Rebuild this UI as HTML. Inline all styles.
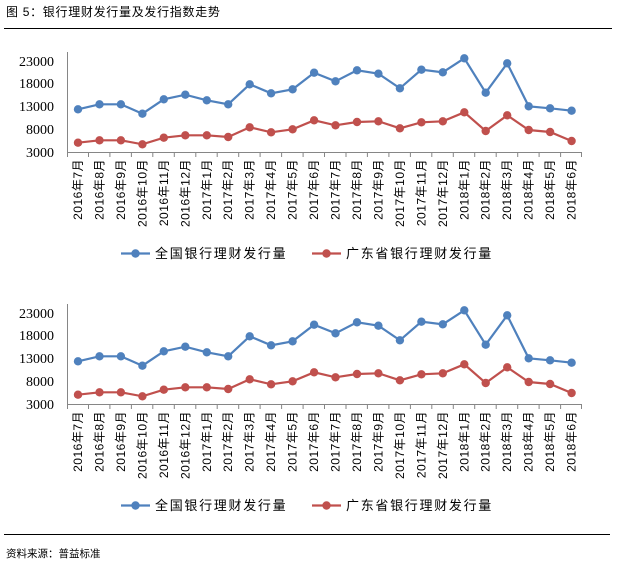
<!DOCTYPE html>
<html><head><meta charset="utf-8"><style>
html,body{margin:0;padding:0;background:#fff;}
svg{display:block;}
.t{font-family:"Liberation Serif","Noto Serif CJK SC",serif;font-size:14px;fill:#000;}
.c{font-family:"Liberation Sans","Noto Sans CJK SC",sans-serif;font-size:12px;fill:#000;letter-spacing:0.5px;}
.l{font-family:"Liberation Sans","Noto Sans CJK SC",sans-serif;font-size:13px;fill:#000;letter-spacing:1.7px;}
.h{font-family:"Liberation Sans","Noto Sans CJK SC",sans-serif;font-size:12px;fill:#000;letter-spacing:0.7px;}
.s{font-family:"Liberation Sans","Noto Sans CJK SC",sans-serif;font-size:10.5px;fill:#000;}
</style></head><body>
<svg width="629" height="566" viewBox="0 0 629 566" xmlns="http://www.w3.org/2000/svg">
<text class="h" x="6" y="16">图 5：银行理财发行量及发行指数走势</text>
<line x1="4" y1="28.5" x2="612" y2="28.5" stroke="#000" stroke-width="1"/>
<g>
<g class="t" text-anchor="end">
<text x="54" y="66">23000</text><text x="54" y="88">18000</text><text x="54" y="111">13000</text><text x="54" y="134">8000</text><text x="54" y="157">3000</text>
</g>
<g stroke="#868686" stroke-width="1" fill="none">
<line x1="67.5" y1="52" x2="67.5" y2="152"/>
<line x1="67" y1="152.5" x2="582" y2="152.5"/>
<path d="M67.5 152v5M88.5 152v5M109.9 152v5M131.4 152v5M152.8 152v5M174.3 152v5M195.8 152v5M217.2 152v5M238.7 152v5M260.1 152v5M281.6 152v5M303.1 152v5M324.5 152v5M346 152v5M367.4 152v5M388.9 152v5M410.4 152v5M431.8 152v5M453.3 152v5M474.7 152v5M496.2 152v5M517.7 152v5M539.1 152v5M560.6 152v5M581.5 152v5"/>
</g>
<g class="c" text-anchor="end">
<text transform="translate(82,159) rotate(-90)">2016年7月</text>
<text transform="translate(103.5,159) rotate(-90)">2016年8月</text>
<text transform="translate(124.9,159) rotate(-90)">2016年9月</text>
<text transform="translate(146.4,159) rotate(-90)">2016年10月</text>
<text transform="translate(167.8,159) rotate(-90)">2016年11月</text>
<text transform="translate(189.3,159) rotate(-90)">2016年12月</text>
<text transform="translate(210.8,159) rotate(-90)">2017年1月</text>
<text transform="translate(232.2,159) rotate(-90)">2017年2月</text>
<text transform="translate(253.7,159) rotate(-90)">2017年3月</text>
<text transform="translate(275.1,159) rotate(-90)">2017年4月</text>
<text transform="translate(296.6,159) rotate(-90)">2017年5月</text>
<text transform="translate(318.1,159) rotate(-90)">2017年6月</text>
<text transform="translate(339.5,159) rotate(-90)">2017年7月</text>
<text transform="translate(361,159) rotate(-90)">2017年8月</text>
<text transform="translate(382.4,159) rotate(-90)">2017年9月</text>
<text transform="translate(403.9,159) rotate(-90)">2017年10月</text>
<text transform="translate(425.4,159) rotate(-90)">2017年11月</text>
<text transform="translate(446.8,159) rotate(-90)">2017年12月</text>
<text transform="translate(468.3,159) rotate(-90)">2018年1月</text>
<text transform="translate(489.7,159) rotate(-90)">2018年2月</text>
<text transform="translate(511.2,159) rotate(-90)">2018年3月</text>
<text transform="translate(532.7,159) rotate(-90)">2018年4月</text>
<text transform="translate(554.1,159) rotate(-90)">2018年5月</text>
<text transform="translate(575.6,159) rotate(-90)">2018年6月</text>
</g>
<polyline fill="none" stroke="#4F81BD" stroke-width="2.2" points="78,109.3 99.5,104.3 120.9,104.3 142.4,113.7 163.8,99.3 185.3,94.7 206.8,100.3 228.2,104.3 249.7,84.3 271.1,93.3 292.6,89.3 314.1,72.7 335.5,81.3 357,70.3 378.4,73.7 399.9,88.3 421.4,69.7 442.8,72.3 464.3,58.3 485.7,92.7 507.2,63.3 528.7,106.3 550.1,108.3 571.6,110.7"/>
<g fill="#4F81BD">
<circle cx="78" cy="109.3" r="4.2"/><circle cx="99.5" cy="104.3" r="4.2"/><circle cx="120.9" cy="104.3" r="4.2"/><circle cx="142.4" cy="113.7" r="4.2"/><circle cx="163.8" cy="99.3" r="4.2"/><circle cx="185.3" cy="94.7" r="4.2"/><circle cx="206.8" cy="100.3" r="4.2"/><circle cx="228.2" cy="104.3" r="4.2"/><circle cx="249.7" cy="84.3" r="4.2"/><circle cx="271.1" cy="93.3" r="4.2"/><circle cx="292.6" cy="89.3" r="4.2"/><circle cx="314.1" cy="72.7" r="4.2"/><circle cx="335.5" cy="81.3" r="4.2"/><circle cx="357" cy="70.3" r="4.2"/><circle cx="378.4" cy="73.7" r="4.2"/><circle cx="399.9" cy="88.3" r="4.2"/><circle cx="421.4" cy="69.7" r="4.2"/><circle cx="442.8" cy="72.3" r="4.2"/><circle cx="464.3" cy="58.3" r="4.2"/><circle cx="485.7" cy="92.7" r="4.2"/><circle cx="507.2" cy="63.3" r="4.2"/><circle cx="528.7" cy="106.3" r="4.2"/><circle cx="550.1" cy="108.3" r="4.2"/><circle cx="571.6" cy="110.7" r="4.2"/>
</g>
<polyline fill="none" stroke="#C0504D" stroke-width="2.2" points="78,142.7 99.5,140.3 120.9,140.3 142.4,144.3 163.8,137.7 185.3,135.3 206.8,135.3 228.2,137 249.7,127.3 271.1,132.3 292.6,129.3 314.1,120.3 335.5,125.3 357,122 378.4,121.3 399.9,128.3 421.4,122.3 442.8,121.3 464.3,112.3 485.7,131 507.2,115.3 528.7,130 550.1,132 571.6,141"/>
<g fill="#C0504D">
<circle cx="78" cy="142.7" r="4.2"/><circle cx="99.5" cy="140.3" r="4.2"/><circle cx="120.9" cy="140.3" r="4.2"/><circle cx="142.4" cy="144.3" r="4.2"/><circle cx="163.8" cy="137.7" r="4.2"/><circle cx="185.3" cy="135.3" r="4.2"/><circle cx="206.8" cy="135.3" r="4.2"/><circle cx="228.2" cy="137" r="4.2"/><circle cx="249.7" cy="127.3" r="4.2"/><circle cx="271.1" cy="132.3" r="4.2"/><circle cx="292.6" cy="129.3" r="4.2"/><circle cx="314.1" cy="120.3" r="4.2"/><circle cx="335.5" cy="125.3" r="4.2"/><circle cx="357" cy="122" r="4.2"/><circle cx="378.4" cy="121.3" r="4.2"/><circle cx="399.9" cy="128.3" r="4.2"/><circle cx="421.4" cy="122.3" r="4.2"/><circle cx="442.8" cy="121.3" r="4.2"/><circle cx="464.3" cy="112.3" r="4.2"/><circle cx="485.7" cy="131" r="4.2"/><circle cx="507.2" cy="115.3" r="4.2"/><circle cx="528.7" cy="130" r="4.2"/><circle cx="550.1" cy="132" r="4.2"/><circle cx="571.6" cy="141" r="4.2"/>
</g>
<line x1="121" y1="253.5" x2="150" y2="253.5" stroke="#4F81BD" stroke-width="2.2"/><circle cx="135.5" cy="253.5" r="4.2" fill="#4F81BD"/>
<text class="l" x="155" y="258">全国银行理财发行量</text>
<line x1="312" y1="253.5" x2="341" y2="253.5" stroke="#C0504D" stroke-width="2.2"/><circle cx="326.5" cy="253.5" r="4.2" fill="#C0504D"/>
<text class="l" x="346" y="258">广东省银行理财发行量</text>
</g>
<g transform="translate(0,252)">
<g class="t" text-anchor="end">
<text x="54" y="66">23000</text><text x="54" y="88">18000</text><text x="54" y="111">13000</text><text x="54" y="134">8000</text><text x="54" y="157">3000</text>
</g>
<g stroke="#868686" stroke-width="1" fill="none">
<line x1="67.5" y1="52" x2="67.5" y2="152"/>
<line x1="67" y1="152.5" x2="582" y2="152.5"/>
<path d="M67.5 152v5M88.5 152v5M109.9 152v5M131.4 152v5M152.8 152v5M174.3 152v5M195.8 152v5M217.2 152v5M238.7 152v5M260.1 152v5M281.6 152v5M303.1 152v5M324.5 152v5M346 152v5M367.4 152v5M388.9 152v5M410.4 152v5M431.8 152v5M453.3 152v5M474.7 152v5M496.2 152v5M517.7 152v5M539.1 152v5M560.6 152v5M581.5 152v5"/>
</g>
<g class="c" text-anchor="end">
<text transform="translate(82,159) rotate(-90)">2016年7月</text>
<text transform="translate(103.5,159) rotate(-90)">2016年8月</text>
<text transform="translate(124.9,159) rotate(-90)">2016年9月</text>
<text transform="translate(146.4,159) rotate(-90)">2016年10月</text>
<text transform="translate(167.8,159) rotate(-90)">2016年11月</text>
<text transform="translate(189.3,159) rotate(-90)">2016年12月</text>
<text transform="translate(210.8,159) rotate(-90)">2017年1月</text>
<text transform="translate(232.2,159) rotate(-90)">2017年2月</text>
<text transform="translate(253.7,159) rotate(-90)">2017年3月</text>
<text transform="translate(275.1,159) rotate(-90)">2017年4月</text>
<text transform="translate(296.6,159) rotate(-90)">2017年5月</text>
<text transform="translate(318.1,159) rotate(-90)">2017年6月</text>
<text transform="translate(339.5,159) rotate(-90)">2017年7月</text>
<text transform="translate(361,159) rotate(-90)">2017年8月</text>
<text transform="translate(382.4,159) rotate(-90)">2017年9月</text>
<text transform="translate(403.9,159) rotate(-90)">2017年10月</text>
<text transform="translate(425.4,159) rotate(-90)">2017年11月</text>
<text transform="translate(446.8,159) rotate(-90)">2017年12月</text>
<text transform="translate(468.3,159) rotate(-90)">2018年1月</text>
<text transform="translate(489.7,159) rotate(-90)">2018年2月</text>
<text transform="translate(511.2,159) rotate(-90)">2018年3月</text>
<text transform="translate(532.7,159) rotate(-90)">2018年4月</text>
<text transform="translate(554.1,159) rotate(-90)">2018年5月</text>
<text transform="translate(575.6,159) rotate(-90)">2018年6月</text>
</g>
<polyline fill="none" stroke="#4F81BD" stroke-width="2.2" points="78,109.3 99.5,104.3 120.9,104.3 142.4,113.7 163.8,99.3 185.3,94.7 206.8,100.3 228.2,104.3 249.7,84.3 271.1,93.3 292.6,89.3 314.1,72.7 335.5,81.3 357,70.3 378.4,73.7 399.9,88.3 421.4,69.7 442.8,72.3 464.3,58.3 485.7,92.7 507.2,63.3 528.7,106.3 550.1,108.3 571.6,110.7"/>
<g fill="#4F81BD">
<circle cx="78" cy="109.3" r="4.2"/><circle cx="99.5" cy="104.3" r="4.2"/><circle cx="120.9" cy="104.3" r="4.2"/><circle cx="142.4" cy="113.7" r="4.2"/><circle cx="163.8" cy="99.3" r="4.2"/><circle cx="185.3" cy="94.7" r="4.2"/><circle cx="206.8" cy="100.3" r="4.2"/><circle cx="228.2" cy="104.3" r="4.2"/><circle cx="249.7" cy="84.3" r="4.2"/><circle cx="271.1" cy="93.3" r="4.2"/><circle cx="292.6" cy="89.3" r="4.2"/><circle cx="314.1" cy="72.7" r="4.2"/><circle cx="335.5" cy="81.3" r="4.2"/><circle cx="357" cy="70.3" r="4.2"/><circle cx="378.4" cy="73.7" r="4.2"/><circle cx="399.9" cy="88.3" r="4.2"/><circle cx="421.4" cy="69.7" r="4.2"/><circle cx="442.8" cy="72.3" r="4.2"/><circle cx="464.3" cy="58.3" r="4.2"/><circle cx="485.7" cy="92.7" r="4.2"/><circle cx="507.2" cy="63.3" r="4.2"/><circle cx="528.7" cy="106.3" r="4.2"/><circle cx="550.1" cy="108.3" r="4.2"/><circle cx="571.6" cy="110.7" r="4.2"/>
</g>
<polyline fill="none" stroke="#C0504D" stroke-width="2.2" points="78,142.7 99.5,140.3 120.9,140.3 142.4,144.3 163.8,137.7 185.3,135.3 206.8,135.3 228.2,137 249.7,127.3 271.1,132.3 292.6,129.3 314.1,120.3 335.5,125.3 357,122 378.4,121.3 399.9,128.3 421.4,122.3 442.8,121.3 464.3,112.3 485.7,131 507.2,115.3 528.7,130 550.1,132 571.6,141"/>
<g fill="#C0504D">
<circle cx="78" cy="142.7" r="4.2"/><circle cx="99.5" cy="140.3" r="4.2"/><circle cx="120.9" cy="140.3" r="4.2"/><circle cx="142.4" cy="144.3" r="4.2"/><circle cx="163.8" cy="137.7" r="4.2"/><circle cx="185.3" cy="135.3" r="4.2"/><circle cx="206.8" cy="135.3" r="4.2"/><circle cx="228.2" cy="137" r="4.2"/><circle cx="249.7" cy="127.3" r="4.2"/><circle cx="271.1" cy="132.3" r="4.2"/><circle cx="292.6" cy="129.3" r="4.2"/><circle cx="314.1" cy="120.3" r="4.2"/><circle cx="335.5" cy="125.3" r="4.2"/><circle cx="357" cy="122" r="4.2"/><circle cx="378.4" cy="121.3" r="4.2"/><circle cx="399.9" cy="128.3" r="4.2"/><circle cx="421.4" cy="122.3" r="4.2"/><circle cx="442.8" cy="121.3" r="4.2"/><circle cx="464.3" cy="112.3" r="4.2"/><circle cx="485.7" cy="131" r="4.2"/><circle cx="507.2" cy="115.3" r="4.2"/><circle cx="528.7" cy="130" r="4.2"/><circle cx="550.1" cy="132" r="4.2"/><circle cx="571.6" cy="141" r="4.2"/>
</g>
<line x1="121" y1="253.5" x2="150" y2="253.5" stroke="#4F81BD" stroke-width="2.2"/><circle cx="135.5" cy="253.5" r="4.2" fill="#4F81BD"/>
<text class="l" x="155" y="258">全国银行理财发行量</text>
<line x1="312" y1="253.5" x2="341" y2="253.5" stroke="#C0504D" stroke-width="2.2"/><circle cx="326.5" cy="253.5" r="4.2" fill="#C0504D"/>
<text class="l" x="346" y="258">广东省银行理财发行量</text>
</g>
<line x1="4" y1="534.5" x2="610" y2="534.5" stroke="#000" stroke-width="1"/>
<text class="s" x="6" y="557">资料来源：普益标准</text>
</svg>
</body></html>
